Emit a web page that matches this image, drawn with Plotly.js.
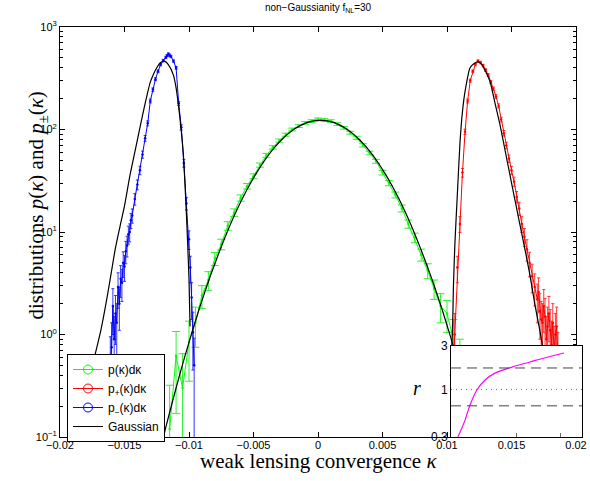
<!DOCTYPE html>
<html><head><meta charset="utf-8">
<script src="https://cdn.plot.ly/plotly-3.0.1.min.js"></script>
<style>body{margin:0;background:#fff}#plot{width:590px;height:481px}</style>
</head><body><div id="plot"></div>
<script>
// ---- green: p(kappa) ----
var greenK = [-0.0115,-0.0110,-0.0105,-0.0100,-0.0095,-0.0090,-0.0085,-0.0080,-0.0075,-0.0070,-0.0065,-0.0060,-0.0055,-0.0050,-0.0045,-0.0040,-0.0035,-0.0030,-0.0025,-0.0020,-0.0015,-0.0010,-0.0005,0.0000,0.0005,0.0010,0.0015,0.0020,0.0025,0.0030,0.0035,0.0040,0.0045,0.0050,0.0055,0.0060,0.0065,0.0070,0.0075,0.0080,0.0085,0.0090,0.0095,0.0100,0.0105,0.0110,0.0115];
var greenP = [0.12,0.62,0.30,0.85,1.3,2.4,3.4,5.5,7.6,11.5,15.5,21.5,28,35,45,56,67,78,89,100,108,116,121,126,124,121,113,104,93,83,70,59,49,38,30,23,17,12,8.8,6.0,4.2,2.8,1.9,1.6,0.9,0.5,0.25];
var greenE = [0.2,0.45,0.35,0.5,0.55,0.6,0.7,0.8,0.9,1.1,1.3,1.5,1.7,1.9,2.1,2.4,2.6,2.8,3.0,3.2,3.3,3.4,3.5,3.5,3.5,3.4,3.3,3.2,3.0,2.9,2.6,2.4,2.2,2.0,1.7,1.5,1.3,1.1,0.95,0.8,0.7,0.6,0.6,0.55,0.5,0.4,0.3];
// ---- blue: p_-(kappa) ----
var blueK = [-0.0161,-0.0160,-0.0159,-0.0158,-0.0157,-0.0156,-0.0155,-0.0154,-0.0153,-0.0152,-0.0151,-0.0150,-0.0149,-0.0148,-0.0147,-0.0146,-0.0145,-0.0144,-0.0142,-0.0140,-0.0138,-0.0136,-0.0134,-0.0132,-0.0130,-0.0128,-0.0126,-0.0124,-0.0122,-0.0120,-0.0118,-0.0117,-0.0116,-0.0115,-0.0114,-0.0112,-0.0110,-0.0108,-0.0106,-0.0104,-0.0102,-0.0100,-0.0099,-0.0098,-0.0097,-0.0096];
var blueP = [0.5,0.75,1.9,0.9,1.6,1.3,2.9,2.0,3.5,3.2,5.0,4.6,6.5,7.4,9.5,10.0,13,14.5,21,29,40,57,82,115,190,245,310,370,430,470,505,525,545,530,515,465,400,180,105,47,19,8.5,4.5,2.3,1.05,0.5];
var blueE = [0.45,0.55,0.9,0.6,0.8,0.7,1.1,0.9,1.2,1.1,1.4,1.3,1.6,1.7,1.9,2.0,2.2,2.3,2.7,3.2,3.8,4.5,5.4,6.4,8.3,9.4,10.6,11.5,12.4,13,13.5,13.7,14,13.8,13.6,12.9,12,8,6.1,4.1,2.6,1.75,1.3,0.9,0.6,0.42];
// ---- red: p_+(kappa) ----
var redK = [0.0104,0.0106,0.0108,0.0110,0.0112,0.0114,0.0116,0.0118,0.0120,0.0122,0.0124,0.0126,0.0128,0.0130,0.0132,0.0134,0.0136,0.0138,0.0140,0.0142,0.0144,0.0146,0.0148,0.0150,0.0152,0.0154,0.0156,0.0158,0.0160,0.0162,0.0164,0.0166,0.0168,0.0170,0.0171,0.0172,0.0173,0.0174,0.0175,0.0176,0.0177,0.0178,0.0179,0.0180,0.0181,0.0182,0.0183,0.0184,0.0185,0.0186];
var redP = [0.3,1.0,4.5,12,38,95,190,300,370,430,465,450,420,380,340,290,250,210,170,125,92,70,52,40,31,22,17,12,9,6.8,5.0,3.7,2.9,2.2,2.6,1.7,1.4,1.3,1.9,1.5,0.9,1.2,1.6,1.1,0.8,1.3,0.7,1.0,1.2,0.6];
var redE = [0.35,0.6,1.3,2.1,3.7,5.8,8.3,10.4,11.5,12.4,12.9,12.7,12.3,11.7,11,10.2,9.5,8.7,7.8,6.7,5.8,5,4.3,3.8,3.3,2.8,2.5,2.1,1.8,1.6,1.35,1.15,1.0,0.9,0.97,0.8,0.7,0.7,0.85,0.75,0.6,0.65,0.75,0.65,0.55,0.7,0.5,0.6,0.65,0.45];
// ---- Gaussian predictions (black) ----
var gaussK = [-0.0123,-0.0118,-0.0113,-0.0108,-0.0103,-0.0098,-0.0093,-0.0088,-0.0083,-0.0078,-0.0073,-0.0068,-0.0063,-0.0058,-0.0053,-0.0048,-0.0043,-0.0038,-0.0033,-0.0028,-0.0023,-0.0018,-0.0013,-0.0008,-0.0003,0.0002,0.0007,0.0012,0.0017,0.0022,0.0027,0.0032,0.0037,0.0042,0.0047,0.0052,0.0057,0.0062,0.0067,0.0072,0.0077,0.0082,0.0087,0.0092,0.0097,0.0102,0.0107,0.0112,0.0117,0.0122,0.0127];
var gaussP = [0.069,0.124,0.217,0.373,0.625,1.02,1.63,2.54,3.86,5.71,8.3,11.8,16.3,21.9,28.9,37.1,46.6,57.1,68.4,79.9,91.1,101.6,110.4,117.2,121.5,123,121.5,117.2,110.4,101.6,91.1,79.9,68.4,57.1,46.6,37.1,28.9,21.9,16.3,11.8,8.3,5.71,3.86,2.54,1.63,1.02,0.625,0.373,0.217,0.124,0.069];
var gaussMinusK = [-0.0187,-0.0180,-0.0174,-0.0168,-0.0163,-0.0160,-0.0157,-0.01535,-0.0150,-0.01457,-0.0142,-0.0138,-0.0134,-0.0130,-0.01277,-0.0125,-0.0122,-0.0119,-0.0116,-0.01122,-0.0110,-0.0108,-0.01045,-0.0102,-0.0100,-0.00992];
var gaussMinusP = [0.09,0.26,0.55,1.15,2.5,4.2,7.0,11.3,18,36,60,105,180,290,343,400,450,465,430,343,255,165,60,15,3.5,1.2];
var gaussPlusK = [0.01036,0.01044,0.0105,0.01062,0.0108,0.01101,0.0112,0.0114,0.01178,0.0121,0.0124,0.0127,0.01333,0.01372,0.01411,0.0145,0.01488,0.01527,0.01566,0.01605,0.01643,0.0168,0.01721,0.0176,0.0180];
var gaussPlusP = [0.7,1.25,3.0,8.1,23,76,150,235,398,440,458,430,294,181,111,63,36,20.5,11.7,6.7,3.8,2.0,1.07,0.55,0.28];
// ---- inset: ratio r ----
var ratioK = [0.0108,0.0114,0.01178,0.01233,0.01295,0.01372,0.01504,0.01643,0.01783,0.01907];
var ratioR = [0.29,0.46,0.67,0.99,1.27,1.51,1.76,2.0,2.27,2.51];
var ratioDashed = [0.66, 1.72];
var ratioDotted = [1];
var yTickVals = [0.1, 1, 10, 100, 1000];
var yTickText = ['10<sup>−1</sup>','10<sup>0</sup>','10<sup>1</sup>','10<sup>2</sup>','10<sup>3</sup>'];
var insetTickVals = [0.3, 1, 3];
var insetTickText = ['0.3', '1', '3'];

var minorVals = [];
[0.1, 1, 10, 100].forEach(function(d){ for (var m = 2; m <= 9; m++) minorVals.push(m*d); });

var sans = 'Liberation Sans, Arial, sans-serif';
var serif = 'Liberation Serif, Times New Roman, serif';

function dataTrace(k, p, e, col, ecol, capw) {
  return {x:k, y:p, type:'scatter', mode:'lines+markers', showlegend:false,
    line:{color:col, width:1}, marker:{color:col, size:2.5},
    error_y:{type:'data', array:e, visible:true, color:ecol, thickness:1, width:capw},
    xaxis:'x', yaxis:'y', hoverinfo:'skip'};
}
function gaussTrace(k, p) {
  return {x:k, y:p, type:'scatter', mode:'lines', showlegend:false,
    line:{color:'#000', width:1.2, shape:'spline', smoothing:0.6}, xaxis:'x', yaxis:'y', hoverinfo:'skip'};
}
function legTrace(name, col, withMarker) {
  return {x:[null], y:[null], type:'scatter', mode: withMarker ? 'lines+markers' : 'lines', name:name,
    line:{color:col, width:1}, marker:{symbol:'circle-open', size:9, color:col, line:{width:1, color:col}},
    xaxis:'x', yaxis:'y'};
}

var traces = [
  dataTrace(greenK, greenP, greenE, '#00ff00', '#33ee33', 4),
  dataTrace(blueK, blueP, blueE, '#0000ff', '#3333ff', 1.5),
  dataTrace(redK, redP, redE, '#ff0000', '#ff3333', 1.5),
  gaussTrace(gaussK, gaussP),
  gaussTrace(gaussMinusK, gaussMinusP),
  gaussTrace(gaussPlusK, gaussPlusP),
  legTrace('p(κ)dκ', '#00ff00', true),
  legTrace('p<sub>+</sub>(κ)dκ', '#ff0000', true),
  legTrace('p<sub>−</sub>(κ)dκ', '#0000ff', true),
  legTrace('Gaussian', '#000000', false),
  {x:ratioK, y:ratioR, type:'scatter', mode:'lines', showlegend:false,
   line:{color:'#ff00ff', width:1.2, shape:'spline'}, xaxis:'x2', yaxis:'y2', hoverinfo:'skip'}
];

var shapes = [];
ratioDashed.forEach(function(v){
  shapes.push({type:'line', xref:'x2 domain', yref:'y2', x0:0, x1:1, y0:v, y1:v,
    line:{color:'#444', width:1, dash:'10px,6px'}});
});
ratioDotted.forEach(function(v){
  shapes.push({type:'line', xref:'x2 domain', yref:'y2', x0:0, x1:1, y0:v, y1:v,
    line:{color:'#666', width:1, dash:'1px,4px'}});
});

var layout = {
  width:590, height:481,
  margin:{l:60, r:6, t:27, b:44},
  paper_bgcolor:'#fff', plot_bgcolor:'#fff',
  showlegend:true,
  font:{family:sans, size:11, color:'#000'},
  title:{text:'non−Gaussianity f<sub>NL</sub>=30', font:{family:sans, size:10, color:'#000'},
         xref:'paper', x:0.4924, xanchor:'center', yref:'container', y:0.9854, yanchor:'middle'},
  xaxis:{domain:[0, 0.98473], range:[-0.02, 0.02], dtick:0.005, tick0:0,
    ticks:'inside', ticklen:5, tickcolor:'#000', showline:true, linecolor:'#000', linewidth:1,
    mirror:'ticks', showgrid:false, zeroline:false, ticklabelstandoff:-2,
    tickfont:{family:sans, size:11, color:'#000'}},
  yaxis:{domain:[0,1], type:'log', range:[-1, 3], tickmode:'array', tickvals:yTickVals, ticktext:yTickText,
    ticks:'inside', ticklen:5, tickcolor:'#000', showline:true, linecolor:'#000', linewidth:1,
    mirror:'ticks', showgrid:false, zeroline:false, tickfont:{family:sans, size:11, color:'#000'},
    minor:{tickmode:'array', tickvals:minorVals, ticks:'inside', ticklen:3, tickcolor:'#000', showgrid:false}},
  xaxis2:{domain:[0.74618, 0.99618], anchor:'y2', range:[0.01031, 0.02047], showticklabels:false,
    tickmode:'array', tickvals:[0.0154, 0.0188], ticks:'inside', ticklen:4, tickcolor:'#666',
    showline:true, linecolor:'#000', linewidth:1, mirror:true, showgrid:false, zeroline:false},
  yaxis2:{domain:[0, 0.222], anchor:'x2', type:'log', range:[Math.log10(0.3), Math.log10(3)],
    tickmode:'array', tickvals:insetTickVals, ticktext:insetTickText, ticks:'', 
    showline:true, linecolor:'#000', linewidth:1, mirror:true, showgrid:false, zeroline:false,
    tickfont:{family:sans, size:12, color:'#000'}},
  legend:{x:0.01336, y:0.2024, xanchor:'left', yanchor:'top', xref:'paper', yref:'paper',
    bgcolor:'#fff', bordercolor:'#000', borderwidth:1, font:{family:sans, size:12, color:'#000'},
    tracegroupgap:0},
  shapes:shapes,
  annotations:[
    {text:'distributions <i>p</i>(<i>κ</i>) and <i>p</i><sub>±</sub>(<i>κ</i>)', xref:'paper', yref:'paper',
     x:-0.0439, y:0.5646, textangle:-90, showarrow:false, xanchor:'center', yanchor:'middle',
     font:{family:serif, size:21, color:'#000'}},
    {text:'weak lensing convergence <i>κ</i>', xref:'paper', yref:'paper',
     x:0.4924, y:-(461-437)/410, xanchor:'center', yanchor:'middle', showarrow:false,
     font:{family:serif, size:21, color:'#000'}},
    {text:'<i>r</i>', xref:'paper', yref:'paper', x:(417-60)/524, y:(437-388)/410,
     xanchor:'center', yanchor:'middle', showarrow:false, font:{family:serif, size:20, color:'#000'}}
  ]
};

Plotly.newPlot('plot', traces, layout, {displayModeBar:false, staticPlot:true});
</script></body></html>
